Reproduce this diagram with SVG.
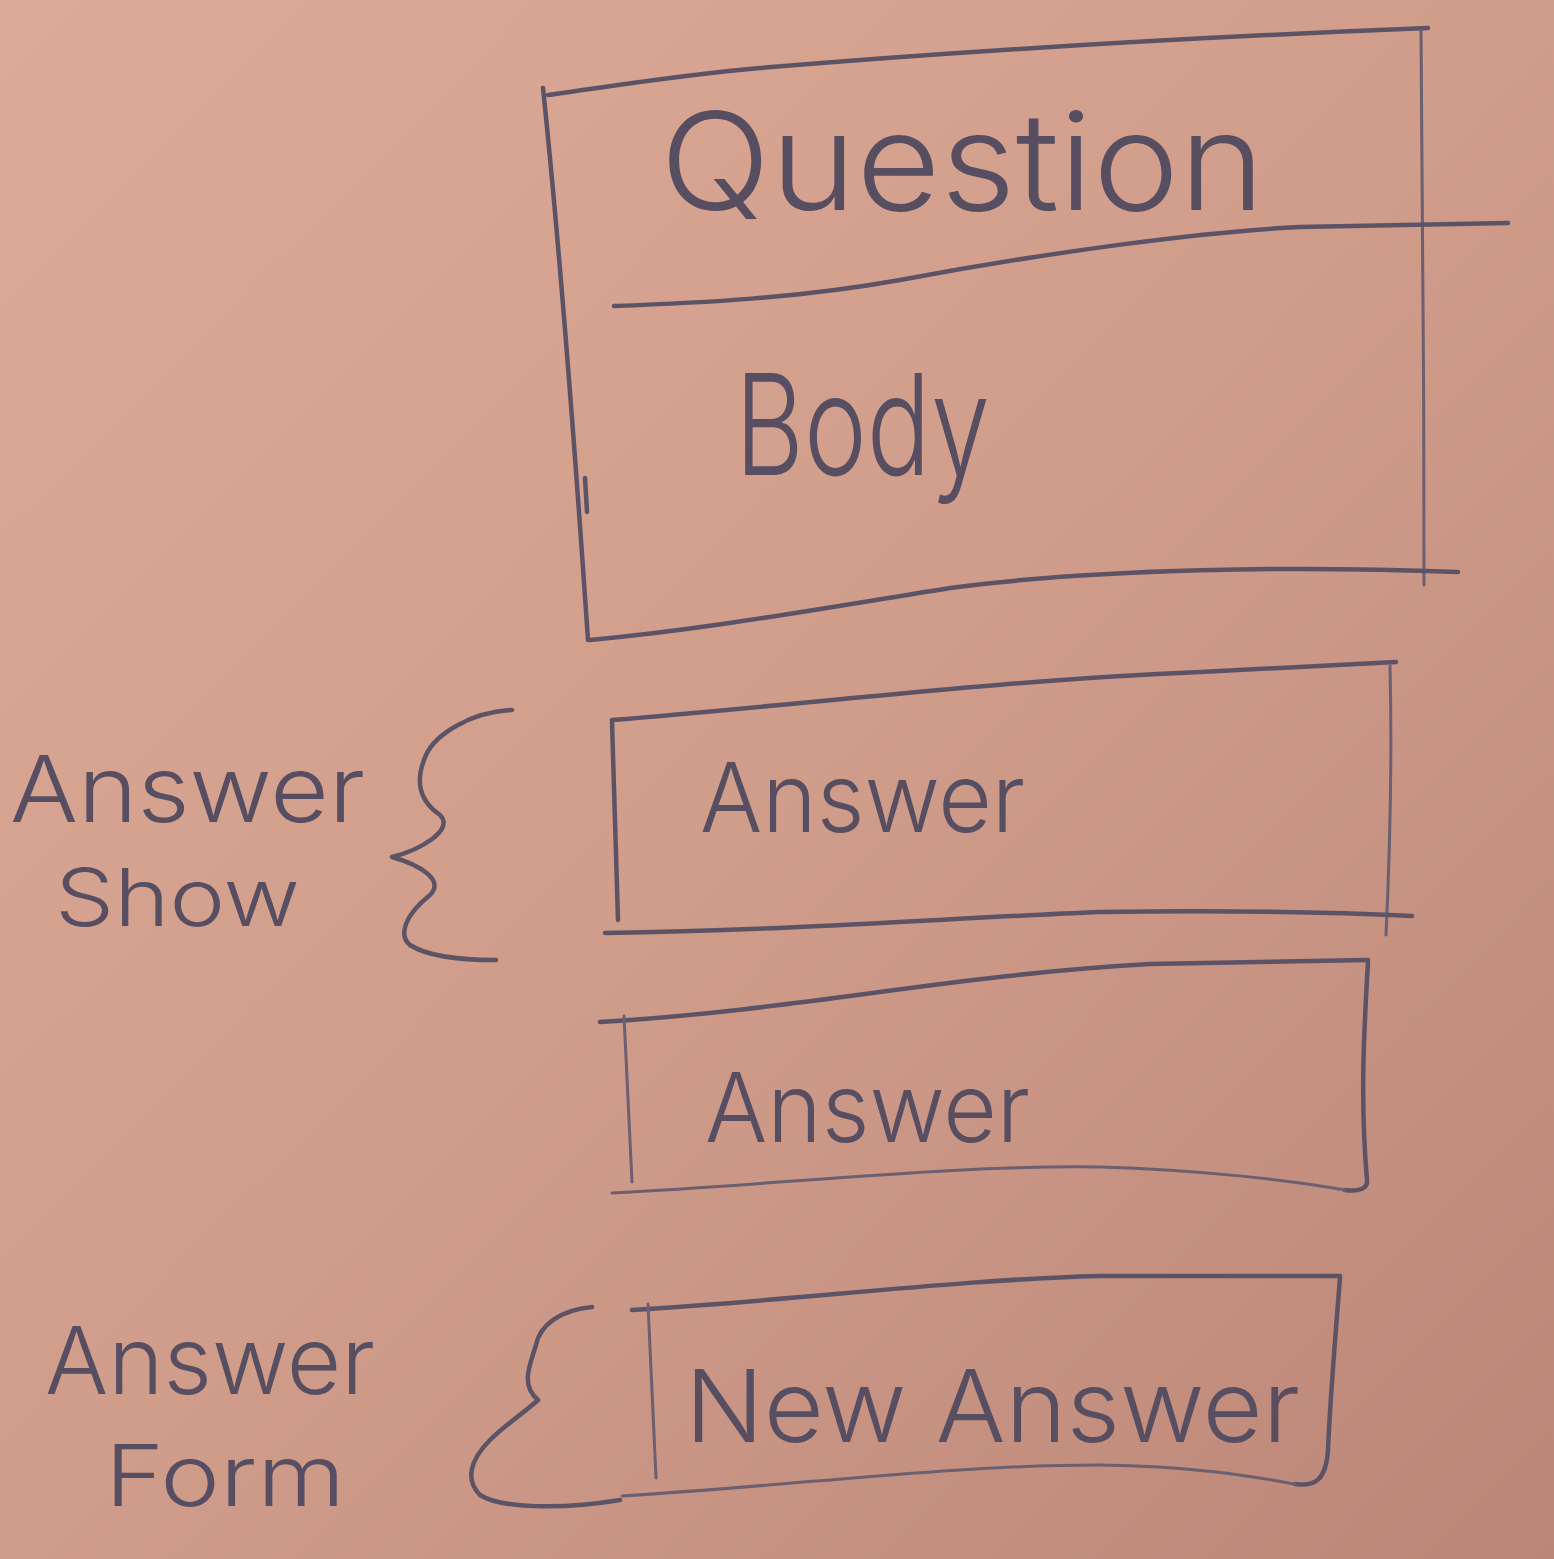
<svg xmlns="http://www.w3.org/2000/svg" width="1554" height="1559" viewBox="0 0 1554 1559">
<defs>
<linearGradient id="bg" x1="0" y1="0" x2="1" y2="1">
<stop offset="0" stop-color="#dcab98"/>
<stop offset="0.5" stop-color="#d19d8b"/>
<stop offset="1" stop-color="#bb8677"/>
</linearGradient>
<style>
.ink{fill:none;stroke:#5d5366;stroke-width:4.5;stroke-linecap:round;stroke-linejoin:round}
.thin{fill:none;stroke:#6b5f70;stroke-width:3;stroke-linecap:round;stroke-linejoin:round}
.hand{font-family:"Inter","Liberation Sans",sans-serif;font-weight:300;fill:#574e62}
</style>
</defs>
<rect width="1554" height="1559" fill="url(#bg)"/>

<g id="question-box">
<path class="ink" d="M548,95 C620,85 680,75 760,68 C1000,48 1250,35 1428,28"/>
<path class="ink" d="M543,88 C560,250 575,450 588,640"/>
<path class="ink" d="M585,478 L587,512"/>
<path class="thin" d="M1421,30 C1423,200 1424,400 1424,585"/>
<path class="ink" d="M614,306 C700,303 800,298 900,280 C1050,252 1200,232 1300,227 L1508,223"/>
<path class="ink" d="M590,640 C700,630 800,612 950,588 C1100,568 1300,566 1458,572"/>
<text class="hand" x="660" y="210" font-size="135" textLength="605" lengthAdjust="spacingAndGlyphs">Question</text>
<text class="hand" x="735" y="475" font-size="140" textLength="255" lengthAdjust="spacingAndGlyphs">Body</text>
</g>

<g id="answer-box-1">
<path class="ink" d="M612,720 C800,705 1000,680 1200,672 L1396,662"/>
<path class="thin" d="M1390,666 C1392,750 1390,850 1386,935"/>
<path class="ink" d="M612,722 L618,920"/>
<path class="ink" d="M605,933 C800,930 950,918 1100,912 C1250,910 1350,913 1412,916"/>
<text class="hand" x="700" y="832" font-size="96" textLength="325" lengthAdjust="spacingAndGlyphs">Answer</text>
</g>

<g id="answer-box-2">
<path class="ink" d="M600,1022 C800,1010 950,975 1150,964 L1368,960"/>
<path class="ink" d="M1368,962 C1364,1030 1360,1100 1367,1180 C1368,1188 1360,1192 1345,1190"/>
<path class="thin" d="M624,1016 L632,1182"/>
<path class="thin" d="M612,1193 C800,1183 950,1165 1100,1167 C1200,1170 1290,1180 1345,1190"/>
<text class="hand" x="705" y="1142" font-size="96" textLength="325" lengthAdjust="spacingAndGlyphs">Answer</text>
</g>

<g id="new-answer-box">
<path class="ink" d="M632,1310 C800,1300 950,1280 1100,1276 L1340,1276"/>
<path class="ink" d="M1340,1278 C1335,1340 1330,1400 1328,1450 C1326,1480 1315,1487 1295,1484"/>
<path class="thin" d="M648,1304 L656,1478"/>
<path class="thin" d="M622,1496 C800,1485 950,1465 1100,1465 C1200,1466 1260,1478 1295,1484"/>
<text class="hand" x="685" y="1442" font-size="100" textLength="615" lengthAdjust="spacingAndGlyphs">New Answer</text>
</g>

<g id="answer-show-label">
<text class="hand" x="10" y="822" font-size="92" textLength="355" lengthAdjust="spacingAndGlyphs">Answer</text>
<text class="hand" x="55" y="926" font-size="80" textLength="245" lengthAdjust="spacingAndGlyphs">Show</text>
</g>

<g id="answer-form-label">
<text class="hand" x="45" y="1394" font-size="94" textLength="330" lengthAdjust="spacingAndGlyphs">Answer</text>
<text class="hand" x="105" y="1506" font-size="85" textLength="240" lengthAdjust="spacingAndGlyphs">Form</text>
</g>

<g id="connectors">
<path class="ink" d="M512,710 C470,712 435,735 426,755 C415,780 418,800 440,815 C455,830 420,850 392,857 C420,865 445,880 430,895 C405,915 398,935 410,945 C430,958 470,960 496,960"/>
<path class="ink" d="M592,1307 C560,1310 540,1325 536,1345 C530,1365 520,1385 538,1400 C525,1412 505,1425 490,1440 C470,1460 465,1480 480,1495 C500,1508 560,1510 620,1500"/>
</g>
</svg>
